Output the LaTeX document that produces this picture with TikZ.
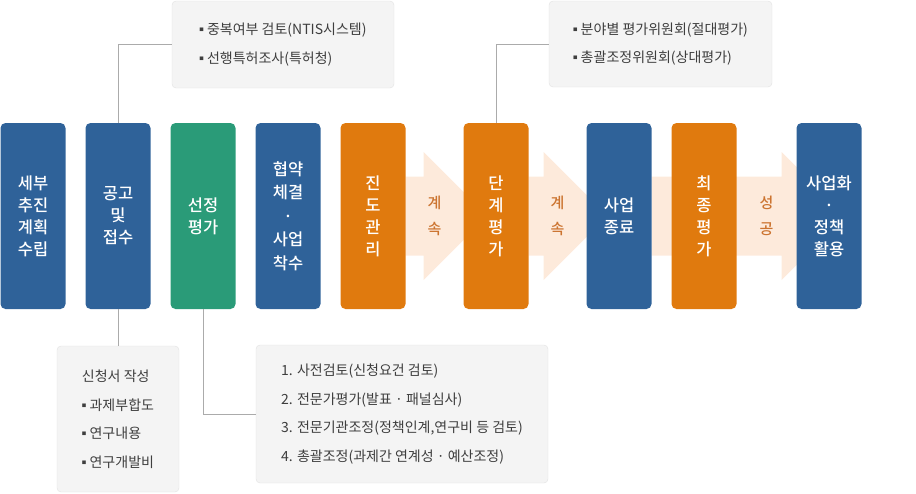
\documentclass[tikz,border=0pt]{standalone}
\usepackage{fontspec}
\setmainfont{Noto Sans CJK KR}
\newfontfamily\stagefont{Noto Sans CJK KR Medium}
\usetikzlibrary{positioning,calc,backgrounds}
\definecolor{stepblue}{HTML}{2F6299}
\definecolor{stepgreen}{HTML}{2A9B78}
\definecolor{steporange}{HTML}{E07A0E}
\definecolor{flowpale}{HTML}{FDEADB}
\definecolor{flowtext}{HTML}{CC7430}
\definecolor{notefill}{HTML}{F4F4F4}
\definecolor{noteline}{HTML}{E2E2E2}
\definecolor{linkgray}{HTML}{ABABAB}
\definecolor{notetext}{HTML}{3E3E3E}
\newcommand\notedot{\raisebox{2.8pt}{\fontsize{4.5}{4.5}\selectfont ■}\ }

\begin{document}
\begin{tikzpicture}[node distance=20pt,
 stage/.style={rounded corners=5pt,minimum width=65pt,minimum height=186pt,inner sep=0pt,outer sep=0pt,
   align=center,text=white,font=\stagefont\fontsize{16.5}{22}\selectfont},
 note/.style={draw=noteline,fill=notefill,rounded corners=4pt,align=left,inner xsep=8pt,
   text=notetext,font=\fontsize{14}{28.5}\selectfont},
 flowlabel/.style={align=center,text=flowtext,font=\stagefont\fontsize{15}{26}\selectfont},
 link/.style={draw=linkgray,line width=0.8pt}]
\useasboundingbox (0,0) rectangle (916pt,-493pt);
% process steps
\node[stage,fill=stepblue] (plan) at (33pt,-216pt) {세부\\추진\\계획\\수립};
\node[stage,fill=stepblue,right=of plan] (call) {공고\\및\\접수};
\node[stage,fill=stepgreen,right=of call] (select) {선정\\평가};
\node[stage,fill=stepblue,right=of select,font=\stagefont\fontsize{16.5}{23.5}\selectfont] (contract) {협약\\체결\\·\\사업\\착수};
\node[stage,fill=steporange,right=of contract] (progress) {진\\도\\관\\리};
\node[stage,fill=steporange,right=58pt of progress] (stage) {단\\계\\평\\가};
\node[stage,fill=stepblue,right=58pt of stage] (finish) {사업\\종료};
\node[stage,fill=steporange,right=of finish] (final) {최\\종\\평\\가};
\node[stage,fill=stepblue,right=60pt of final] (use) {사업화\\·\\정책\\활용};
% broad arrows behind the steps
\begin{scope}[on background layer]
\fill[flowpale] ([yshift=39.5pt]progress.east) -- ([xshift=-40pt,yshift=39.5pt]stage.west)
  -- ([xshift=-40pt,yshift=64pt]stage.west) -- ([xshift=24pt]stage.west)
  -- ([xshift=-40pt,yshift=-64pt]stage.west) -- ([xshift=-40pt,yshift=-39.5pt]stage.west)
  -- ([yshift=-39.5pt]progress.east) -- cycle;
\fill[flowpale] ([yshift=39.5pt]stage.east) -- ([xshift=-43pt,yshift=39.5pt]finish.west)
  -- ([xshift=-43pt,yshift=64pt]finish.west) -- ([xshift=21pt]finish.west)
  -- ([xshift=-43pt,yshift=-64pt]finish.west) -- ([xshift=-43pt,yshift=-39.5pt]finish.west)
  -- ([yshift=-39.5pt]stage.east) -- cycle;
\fill[flowpale] ([yshift=39.5pt]finish.east) -- ([xshift=-15pt,yshift=39.5pt]use.west)
  -- ([xshift=-15pt,yshift=64pt]use.west) -- ([xshift=49pt]use.west)
  -- ([xshift=-15pt,yshift=-64pt]use.west) -- ([xshift=-15pt,yshift=-39.5pt]use.west)
  -- ([yshift=-39.5pt]finish.east) -- cycle;
\end{scope}
\node[flowlabel] (go1) at ($(progress.east)!0.5!(stage.west)$) {계\\속};
\node[flowlabel] (go2) at ($(stage.east)!0.5!(finish.west)$) {계\\속};
\node[flowlabel] (win) at ($(final.east)!0.5!(use.west)$) {성\\공};
% notes
\node[note,minimum width=222pt,minimum height=87pt] (check) at (283pt,-44.5pt)
  {\notedot 중복여부 검토(NTIS시스템)\\\notedot 선행특허조사(특허청)};
\node[note,minimum width=223pt,minimum height=86pt] (panel) at (660.5pt,-44pt)
  {\notedot 분야별 평가위원회(절대평가)\\\notedot 총괄조정위원회(상대평가)};
\node[note,minimum width=122pt,minimum height=146pt] (form) at (118pt,-419pt)
  {신청서 작성\\\notedot 과제부합도\\\notedot 연구내용\\\notedot 연구개발비};
\node[note,minimum width=292pt,minimum height=138pt] (review) at (402pt,-414pt)
  {1. 사전검토(신청요건 검토)\\2. 전문가평가(발표 · 패널심사)\\3. 전문기관조정(정책인계,연구비 등 검토)\\4. 총괄조정(과제간 연계성 · 예산조정)};
\draw[link] (call.north) |- (check.west);
\draw[link] (stage.north) |- (panel.west);
\draw[link] (call.south) -- (call.south |- form.north);
\draw[link] (select.south) |- (review.west);
\end{tikzpicture}
\end{document}
